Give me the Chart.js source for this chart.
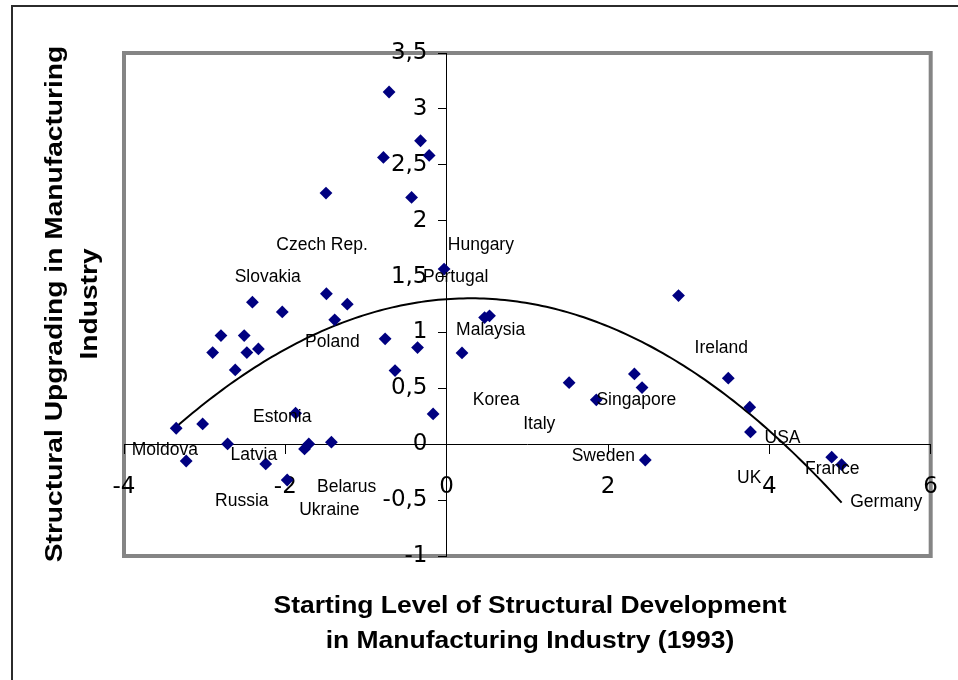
<!DOCTYPE html>
<html>
<head>
<meta charset="utf-8">
<script src="https://cdn.jsdelivr.net/npm/chart.js@4/dist/chart.umd.min.js"></script>
<style>
  html, body { margin: 0; padding: 0; background: #fff; }
  #c { display: block; }
</style>
</head>
<body>
<canvas id="c" width="958" height="680"></canvas>
<script>
// Starting level of structural development (1993) for each country
const startLevel = [
  -0.714, -0.784, -0.324, -0.217, -0.435, -1.496, -0.032, -1.491, -2.408, -1.232,
  -2.038, -1.388, 0.470, 0.531, -2.798, -2.510, -2.901, -2.477, -2.334, -0.763,
  -0.361, 0.190, -2.621, -0.640, 2.874, 3.491, 2.327, 2.422, 1.518, 1.855,
  3.757, 3.766, 2.462, 4.773, 4.896, -0.168, -3.353, -3.025, -3.229, -2.716,
  -2.243, -1.873, -1.977, -1.762, -1.709, -1.429
];
// Structural upgrading in manufacturing industry
const upgrading = [
  3.151, 2.566, 2.715, 2.584, 2.208, 2.247, 1.567, 1.346, 1.271, 1.253,
  1.184, 1.113, 1.133, 1.149, 0.972, 0.972, 0.820, 0.820, 0.853, 0.943,
  0.865, 0.817, 0.665, 0.659, 1.330, 0.591, 0.629, 0.507, 0.551, 0.397,
  0.331, 0.110, -0.141, -0.116, -0.183, 0.271, 0.143, 0.182, -0.150, 0.003,
  -0.176, 0.278, -0.320, -0.042, 0.003, 0.018
];

// Country names and where their captions sit (in axis units)
const countryNames = [
  'Czech Rep.', 'Hungary', 'Slovakia', 'Portugal', 'Poland', 'Malaysia', 'Ireland',
  'Korea', 'Singapore', 'Italy', 'Estonia', 'Moldova', 'Latvia', 'Sweden', 'USA',
  'France', 'UK', 'Belarus', 'Russia', 'Ukraine', 'Germany'
];
const captionX = [
  -1.545, 0.424, -2.218, 0.112, -1.417, 0.545, 3.404,
  0.613, 2.351, 1.148, -2.038, -3.494, -2.391, 1.941, 4.163,
  4.779, 3.751, -1.240, -2.539, -1.454, 5.449
];
const captionY = [
  1.784, 1.784, 1.495, 1.498, 0.910, 1.023, 0.859,
  0.390, 0.390, 0.182, 0.242, -0.051, -0.102, -0.111, 0.054,
  -0.224, -0.304, -0.380, -0.508, -0.588, -0.514
];

const xTickValues = [-4, -2, 0, 2, 4, 6];
const yTickValues = [-1, -0.5, 0, 0.5, 1, 1.5, 2, 2.5, 3, 3.5];

const xTitleLines = ['Starting Level of Structural Development', 'in Manufacturing Industry (1993)'];
const yTitleLines = ['Structural Upgrading in Manufacturing', 'Industry'];

// Least-squares second-order polynomial trend through the points
function fitQuadratic(xs, ys) {
  const s = [0, 0, 0, 0, 0], t = [0, 0, 0];
  for (let i = 0; i < xs.length; i++) {
    let p = 1;
    for (let k = 0; k < 5; k++) {
      s[k] += p;
      if (k < 3) t[k] += p * ys[i];
      p *= xs[i];
    }
  }
  const m = [
    [s[0], s[1], s[2], t[0]],
    [s[1], s[2], s[3], t[1]],
    [s[2], s[3], s[4], t[2]]
  ];
  for (let c = 0; c < 3; c++) {
    for (let r = c + 1; r < 3; r++) {
      const f = m[r][c] / m[c][c];
      for (let k = c; k < 4; k++) m[r][k] -= f * m[c][k];
    }
  }
  const coef = [0, 0, 0];
  for (let r = 2; r >= 0; r--) {
    let v = m[r][3];
    for (let k = r + 1; k < 3; k++) v -= m[r][k] * coef[k];
    coef[r] = v / m[r][r];
  }
  return coef;
}

const trendCoef = fitQuadratic(startLevel, upgrading);
const trendFrom = Math.min(...startLevel);
const trendTo = Math.max(...startLevel);
const trendPoints = [];
for (let i = 0; i <= 160; i++) {
  const x = trendFrom + (trendTo - trendFrom) * i / 160;
  trendPoints.push({ x, y: trendCoef[0] + trendCoef[1] * x + trendCoef[2] * x * x });
}

const points = startLevel.map((x, i) => ({ x, y: upgrading[i] }));

const commaNumber = v => String(v).replace('.', ',');

// Frame, plot border, captions and axis titles
const decorations = {
  id: 'decorations',
  beforeDraw(chart) {
    const ctx = chart.ctx;
    const a = chart.chartArea;
    ctx.save();
    ctx.fillStyle = '#ffffff';
    ctx.fillRect(0, 0, chart.width, chart.height);
    ctx.strokeStyle = '#2b2b2b';
    ctx.lineWidth = 2;
    ctx.beginPath();
    ctx.moveTo(12, chart.height);
    ctx.lineTo(12, 6);
    ctx.lineTo(chart.width, 6);
    ctx.stroke();
    ctx.strokeStyle = '#858585';
    ctx.lineWidth = 4;
    ctx.strokeRect(a.left, a.top, a.right - a.left, a.bottom - a.top);
    ctx.restore();
  },
  afterDatasetsDraw(chart) {
    const ctx = chart.ctx;
    const xs = chart.scales.x, ys = chart.scales.y;
    ctx.save();
    ctx.fillStyle = '#000';
    ctx.font = '17.5px "Liberation Sans", Arial, sans-serif';
    ctx.textAlign = 'center';
    ctx.textBaseline = 'middle';
    countryNames.forEach((name, i) => {
      ctx.fillText(name, xs.getPixelForValue(captionX[i]), ys.getPixelForValue(captionY[i]));
    });
    ctx.restore();
  },
  afterDraw(chart) {
    const ctx = chart.ctx;
    ctx.save();
    ctx.fillStyle = '#000';
    ctx.textAlign = 'center';
    ctx.textBaseline = 'alphabetic';
    // horizontal title under the plot
    ctx.font = 'bold 23px "Liberation Sans", Arial, sans-serif';
    xTitleLines.forEach((line, i) => {
      ctx.save();
      ctx.translate(530, 613 + i * 34.5);
      ctx.scale(1.15, 1);
      ctx.fillText(line, 0, 0);
      ctx.restore();
    });
    // vertical title on the left
    ctx.font = 'bold 24.5px "Liberation Sans", Arial, sans-serif';
    yTitleLines.forEach((line, i) => {
      ctx.save();
      ctx.translate(62 + i * 35, 304);
      ctx.rotate(-Math.PI / 2);
      ctx.scale(1.15, 1);
      ctx.fillText(line, 0, 0);
      ctx.restore();
    });
    ctx.restore();
  }
};

new Chart(document.getElementById('c'), {
  data: {
    datasets: [
      {
        type: 'scatter',
        data: points,
        pointStyle: 'rectRot',
        pointRadius: 6.4,
        pointHoverRadius: 6.4,
        backgroundColor: '#000080',
        borderColor: '#000080',
        borderWidth: 0,
        order: 1
      },
      {
        type: 'line',
        data: trendPoints,
        borderColor: '#000',
        borderWidth: 2,
        pointRadius: 0,
        tension: 0,
        fill: false,
        order: 2
      }
    ]
  },
  options: {
    responsive: false,
    animation: false,
    events: [],
    layout: { padding: { left: 124, top: 53, right: 23, bottom: 124 } },
    plugins: { legend: { display: false }, tooltip: { enabled: false }, title: { display: false } },
    scales: {
      x: {
        type: 'linear',
        position: { y: 0 },
        min: -4,
        max: 6,
        afterBuildTicks: s => { s.ticks = xTickValues.map(v => ({ value: v })); },
        grid: { drawOnChartArea: false, drawTicks: true, tickLength: 9, color: '#000', lineWidth: 1 },
        border: { display: true, color: '#000', width: 1 },
        ticks: {
          autoSkip: false, maxRotation: 0, padding: 20, color: '#000',
          font: { family: '"DejaVu Sans", sans-serif', size: 23 },
          callback: v => commaNumber(v)
        }
      },
      y: {
        type: 'linear',
        position: { x: 0 },
        min: -1,
        max: 3.5,
        afterBuildTicks: s => { s.ticks = yTickValues.map(v => ({ value: v })); },
        grid: { drawOnChartArea: false, drawTicks: true, tickLength: 8, color: '#000', lineWidth: 1 },
        border: { display: true, color: '#000', width: 1 },
        ticks: {
          autoSkip: false, color: '#000',
          font: { family: '"DejaVu Sans", sans-serif', size: 23 },
          // trailing gap keeps the right-aligned labels clear of the axis line
          callback: v => commaNumber(v) + '  \u2009'
        }
      }
    }
  },
  plugins: [decorations]
});
</script>
</body>
</html>
